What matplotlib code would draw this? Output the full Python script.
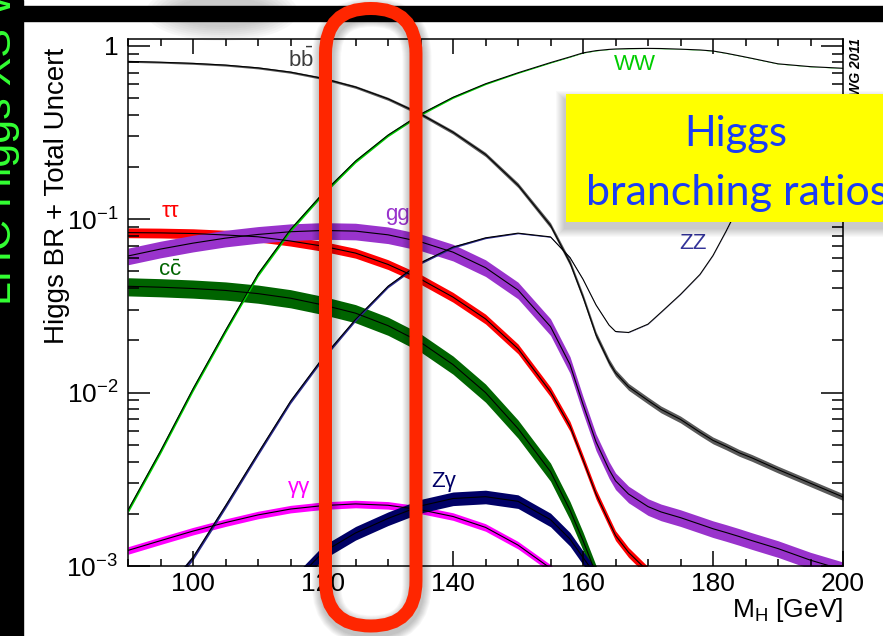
import numpy as np
import matplotlib.pyplot as plt
from matplotlib.patches import FancyBboxPatch, Rectangle, Ellipse
from matplotlib.ticker import FixedLocator, FixedFormatter, LogLocator, NullFormatter, MultipleLocator

plt.rcParams['font.family'] = ['Liberation Sans', 'DejaVu Sans']
plt.rcParams['mathtext.fontset'] = 'custom'
plt.rcParams['mathtext.rm'] = 'Liberation Sans'
plt.rcParams['mathtext.it'] = 'Liberation Sans:italic'

# --- Higgs masses (GeV) and branching ratios ---
mass = [90, 95, 100, 105, 110, 115, 120, 125, 130, 135, 140, 145, 150,
        155, 158, 160, 162, 164, 165, 167, 170, 172, 175, 178, 180, 182, 184, 186, 190, 195, 200]

br_bb = [0.812, 0.803, 0.791, 0.773, 0.745, 0.704, 0.648, 0.578, 0.494, 0.404, 0.317, 0.236, 0.157,
         0.0920, 0.0560, 0.0356, 0.0215, 0.0150, 0.0130, 0.0108, 0.0090, 0.0080, 0.0070, 0.0059, 0.0053,
         0.0049, 0.0045, 0.0042, 0.0036, 0.0030, 0.0025]
br_tautau = [0.0836, 0.0833, 0.0826, 0.0810, 0.0791, 0.0748, 0.0698, 0.0637, 0.0548, 0.0451, 0.0355, 0.0266, 0.0179,
             0.0101, 0.0064, 0.0041, 0.0026, 0.0018, 0.00150, 0.00120, 0.00093, 0.00085, 0.00075, 0.00067, 0.00062,
             0.00058, 0.00054, 0.00050, 0.00045, 0.00038, 0.00032]
br_cc = [0.0410, 0.0405, 0.0398, 0.0388, 0.0372, 0.0350, 0.0320, 0.0287, 0.0243, 0.0195, 0.0145, 0.0100, 0.0062,
         0.0035, 0.0021, 0.00140, 0.00090, 0.00063, 0.00052, 0.00043, 0.00035, 0.00032, 0.00029, 0.00026, 0.00024,
         0.00022, 0.00020, 0.00019, 0.00017, 0.00014, 0.00012]
br_gg = [0.0613, 0.0672, 0.0727, 0.0777, 0.0816, 0.0846, 0.0860, 0.0853, 0.0812, 0.0740, 0.0645, 0.0525, 0.0390,
         0.0240, 0.0145, 0.00855, 0.0052, 0.0036, 0.0031, 0.0026, 0.00220, 0.00205, 0.00190, 0.00174, 0.00164,
         0.00156, 0.00148, 0.00140, 0.00126, 0.00108, 0.00095]
br_aa = [0.00123, 0.00140, 0.00159, 0.00178, 0.00197, 0.00213, 0.00223, 0.00228, 0.00224, 0.00211, 0.00193, 0.00167, 0.00132,
         0.00097, 0.00075, 0.00055, 0.00040, 0.00031, 0.00028, 0.00024, 0.00020, 0.00018, 0.00016, 0.00014, 0.00013,
         0.00012, 0.00011, 0.00010, 0.00009, 0.00008, 0.00007]
br_za = [0.00002, 0.00005, 0.00010, 0.00022, 0.00045, 0.00077, 0.00120, 0.00155, 0.00188, 0.00222, 0.00245, 0.00251, 0.00236,
         0.00185, 0.00143, 0.00112, 0.00088, 0.00070, 0.00062, 0.00053, 0.00042, 0.00038, 0.00034, 0.00030, 0.00028,
         0.00026, 0.00024, 0.00022, 0.00019, 0.00016, 0.00014]
br_ww = [0.0021, 0.0046, 0.0105, 0.0228, 0.0482, 0.0870, 0.141, 0.216, 0.305, 0.403, 0.504, 0.603, 0.698,
         0.799, 0.862, 0.909, 0.936, 0.952, 0.957, 0.962, 0.965, 0.963, 0.955, 0.945, 0.932,
         0.905, 0.875, 0.845, 0.786, 0.757, 0.741]
br_zz = [0.00042, 0.00066, 0.00112, 0.00222, 0.00447, 0.0089, 0.0159, 0.0264, 0.0410, 0.0560, 0.0690, 0.0780, 0.0830,
         0.0790, 0.0600, 0.0450, 0.0320, 0.0245, 0.0225, 0.0222, 0.0248, 0.0290, 0.0368, 0.0480, 0.0617,
         0.085, 0.120, 0.150, 0.196, 0.236, 0.261]

# relative total uncertainties (band half-width)
unc_bb = [0.012, 0.012, 0.013, 0.013, 0.014, 0.015, 0.016, 0.018, 0.020, 0.022, 0.025, 0.028, 0.032,
          0.036, 0.040, 0.042, 0.044, 0.045, 0.045, 0.045, 0.045, 0.045, 0.045, 0.045, 0.045,
          0.045, 0.045, 0.045, 0.045, 0.045, 0.045]
unc_vv = [0.035, 0.035, 0.034, 0.033, 0.031, 0.029, 0.026, 0.023, 0.020, 0.017, 0.014, 0.011, 0.008,
          0.006, 0.004, 0.003, 0.003, 0.002, 0.002, 0.002, 0.002, 0.002, 0.002, 0.002, 0.002,
          0.002, 0.002, 0.002, 0.002, 0.002, 0.002]
unc_tautau, unc_cc, unc_gg, unc_aa, unc_za = 0.065, 0.12, 0.11, 0.05, 0.09

ytick_vals = [1e-3, 1e-2, 1e-1, 1]
ytick_labels = [r'$\mathrm{10^{-3}}$', r'$\mathrm{10^{-2}}$', r'$\mathrm{10^{-1}}$', '1']

W, H = 883, 636
fig = plt.figure(figsize=(W / 100 + 1e-4, H / 100 + 1e-4), dpi=100)
fig.patch.set_facecolor('white')

ax = fig.add_axes([128 / W, 1 - 566 / H, (843 - 128) / W, (566 - 39) / H])
m = np.array(mass)


def band(y, unc, color):
    y = np.asarray(y)
    u = np.asarray(unc)
    ax.fill_between(m, y * (1 - u), y * (1 + u), color=color, lw=0)
    ax.plot(m, y, color='black', lw=0.8)


band(br_bb, unc_bb, '#5a5a5a')
band(br_tautau, unc_tautau, '#ff0000')
band(br_cc, unc_cc, '#006400')
band(br_gg, unc_gg, '#9933cc')
band(br_aa, unc_aa, '#ff00ff')
band(br_za, unc_za, '#000066')
band(br_ww, unc_vv, '#00cc00')
band(br_zz, unc_vv, '#2b2b8c')

# channel labels
lab_fs = 16
ax.text(116.6, 0.827, r'$\mathrm{b\bar{b}}$', color='#3c3c3c', fontsize=lab_fs, ha='center', va='center')
ax.text(168.0, 0.784, 'WW', color='#00cc00', fontsize=lab_fs, ha='center', va='center')
ax.text(176.9, 0.0724, 'ZZ', color='#333399', fontsize=lab_fs, ha='center', va='center')
ax.text(131.5, 0.107, 'gg', color='#9933cc', fontsize=lab_fs, ha='center', va='center')
ax.text(96.5, 0.110, 'ττ', color='#ff0000', fontsize=lab_fs, ha='center', va='center')
ax.text(96.5, 0.0503, r'$\mathrm{c\bar{c}}$', color='#006400', fontsize=lab_fs, ha='center', va='center')
ax.text(116.3, 0.00282, 'γγ', color='#ff00ff', fontsize=lab_fs, ha='center', va='center')
ax.text(138.5, 0.00306, 'Zγ', color='#000066', fontsize=lab_fs, ha='center', va='center')

ax.set_xlim(90, 200)
ax.set_yscale('log')
ax.set_ylim(1e-3, 1.093)
ax.xaxis.set_major_locator(MultipleLocator(20))
ax.xaxis.set_minor_locator(MultipleLocator(5))
ax.yaxis.set_major_locator(FixedLocator(ytick_vals))
ax.yaxis.set_major_formatter(FixedFormatter(ytick_labels))
ax.yaxis.set_minor_locator(LogLocator(base=10, subs=np.arange(2, 10)))
ax.yaxis.set_minor_formatter(NullFormatter())
ax.tick_params(which='both', direction='in', top=True, right=True, width=1.1, labelsize=19)
ax.tick_params(axis='x', which='major', length=10.8, pad=4)
ax.tick_params(axis='x', which='minor', length=5)
ax.tick_params(axis='y', which='major', length=15.8, pad=7)
ax.tick_params(axis='y', which='minor', length=8)
for s in ax.spines.values():
    s.set_linewidth(1.1)

fig.text(843 / W, 1 - 617 / H, r'$\mathrm{M_H}$ [GeV]', ha='right', va='baseline', fontsize=19)
fig.text(57 / W, 1 - 196 / H, 'Higgs BR + Total Uncert', rotation=90, ha='center', va='center', fontsize=20)

# --- slide overlay in pixel coordinates ---
ov = fig.add_axes([0, 0, 1, 1], zorder=10)
ov.set_xlim(0, W)
ov.set_ylim(H, 0)
ov.axis('off')

for k in range(8):
    ov.add_patch(Ellipse((222, 12), 96 + 8 * k, 30 + 4 * k, color='#707070', alpha=0.05, lw=0, zorder=1))
ov.add_patch(Rectangle((0, 0), 23, H, color='black', zorder=2))
ov.add_patch(Rectangle((23, 6), W - 23, 15, color='black', zorder=2))
ov.text(20, 305, 'LHC Higgs XS WG', rotation=90, ha='right', va='bottom', fontsize=31,
        color='#33ff33', zorder=3)

ov.text(856, 38, 'LHC HIGGS XS WG 2011', rotation=90, ha='center', va='top', fontsize=10,
        fontweight='bold', style='italic', color='black', zorder=3)

# red highlight with soft shadow
sx, sy, sw, sh = 325.5, 8.5, 90.5, 617.5
for k in range(1, 9):
    ov.add_patch(FancyBboxPatch((sx + 1, sy + 4), sw, sh, boxstyle=f'round,pad=0,rounding_size={sw / 2}',
                                fill=False, ec='black', lw=(13 + 2 * k) * 0.72, alpha=0.03, zorder=4))
ov.add_patch(FancyBboxPatch((sx, sy), sw, sh, boxstyle=f'round,pad=0,rounding_size={sw / 2}',
                            fill=False, ec='#ff2600', lw=13 * 0.72, zorder=5))

# yellow note with shadow
for k in range(1, 10):
    ov.add_patch(Rectangle((566 - k - 1, 94 - k + 6), 340 + 2 * k, 128 + 2 * k, fc='black', ec='none',
                           alpha=0.025, zorder=6))
ov.add_patch(Rectangle((566, 94), 340, 128, fc='#ffff00', ec='none', zorder=7))
ov.text(736, 134, 'Higgs', ha='center', va='center', fontsize=30, color='#1a3cf5', family='Lato', zorder=8)
ov.text(737, 205, 'branching ratios', ha='center', va='baseline', fontsize=31, color='#1a3cf5',
        family='Lato', zorder=8)

fig.savefig('out.png', dpi=100)
